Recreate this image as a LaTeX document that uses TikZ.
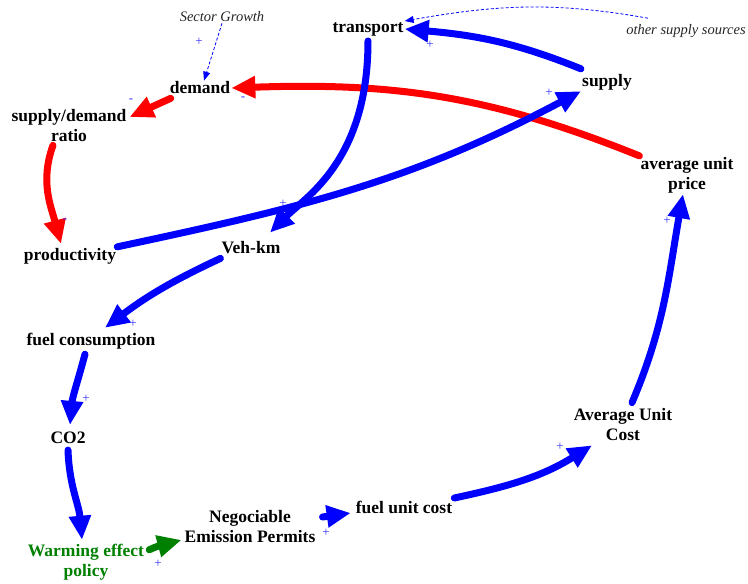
\documentclass[tikz,border=0pt]{standalone}
\usepackage{fontspec}
\setmainfont{Liberation Serif}
\usetikzlibrary{arrows.meta}

\begin{document}
\begin{tikzpicture}[x=1pt, y=1pt,
    var/.style={font=\fontsize{17.5}{20}\selectfont\bfseries, align=center, inner sep=1pt},
    src/.style={font=\fontsize{14.5}{16}\selectfont\itshape, black!85, inner sep=1pt},
    link/.style={line width=7pt, line cap=round, -{Triangle[length=24pt,width=21pt]}},
    poslink/.style={link, blue},
    neglink/.style={link, red},
    dep/.style={blue, line width=0.8pt, dash pattern=on 3pt off 2pt, -{Triangle[length=9pt,width=7pt]}},
    sign/.style={font=\fontsize{13}{13}\selectfont, blue!80, inner sep=0pt}
]
    \useasboundingbox (0,0) rectangle (748,-584);

    % variables
    \node[src] (sector) at (222,-17) {Sector Growth};
    \node[src] (other) at (686,-31) {other supply sources};
    \node[var] (transport) at (368,-29) {transport};
    \node[var] (demand) at (200,-88) {demand};
    \node[var] (supply) at (607,-82) {supply};
    \node[var] (ratio) at (69,-126) {supply/demand\\ratio};
    \node[var] (price) at (687,-175) {average unit\\price};
    \node[var] (productivity) at (70,-256) {productivity};
    \node[var] (vehkm) at (251,-248) {Veh-km};
    \node[var] (fuelcons) at (91,-341) {fuel consumption};
    \node[var] (co2) at (68,-438) {CO2};
    \node[var] (auc) at (623,-425) {Average Unit\\Cost};
    \node[var] (fuelunit) at (404,-507) {fuel unit cost};
    \node[var] (permits) at (250,-527) {Negociable\\Emission Permits};
    \node[var, green!50!black] (warming) at (86,-562) {Warming effect\\policy};

    % exogenous links
    \draw[dep] (sector.south) -- ([xshift=4pt]demand.north);
    \draw[dep] ([xshift=-38pt,yshift=5pt]other.north) to[out=170, in=10] (transport.north east);

    % causal links
    \draw[poslink] ([yshift=4pt]supply.north west) to[out=158, in=-5] (transport.east);
    \draw[neglink] (price.north west) to[out=158, in=2] (demand.east);
    \draw[neglink] ([xshift=2pt,yshift=-3pt]demand.south west) -- ([xshift=2pt,yshift=9pt]ratio.east);
    \draw[neglink] ([xshift=-16pt,yshift=-2pt]ratio.south) to[out=250, in=105] ([xshift=-9pt,yshift=3pt]productivity.north);
    \draw[poslink] (productivity.north east) to[out=12, in=-152] (supply.south west);
    \draw[poslink] ([yshift=-4pt]transport.south) to[out=-90, in=45, out distance=120pt, in distance=50pt] ([shift={(19,8)}]vehkm.north);
    \draw[poslink] ([yshift=-3pt]vehkm.south west) to[out=205, in=37] ([xshift=14pt,yshift=4pt]fuelcons.north);
    \draw[poslink] ([xshift=-6pt,yshift=-4pt]fuelcons.south) to[out=255, in=85] ([xshift=2pt,yshift=6pt]co2.north);
    \draw[poslink] ([yshift=-5pt]co2.south) to[out=-88, in=95] ([xshift=-4pt,yshift=3pt]warming.north);
    \draw[link, green!50!black] ([shift={(4,-7)}]warming.north east) to[out=25, in=195] ([xshift=-2pt,yshift=-13pt]permits.west);
    \draw[poslink] ([shift={(6,10)}]permits.east) -- ([xshift=-4pt,yshift=-6pt]fuelunit.west);
    \draw[poslink] ([shift={(1,9)}]fuelunit.east) to[out=12, in=-148] ([xshift=-31pt,yshift=-3pt]auc.south);
    \draw[poslink] ([shift={(9,5)}]auc.north) to[out=67, in=-100] ([xshift=-4pt]price.south);

    % polarities
    \node[sign] (p1) at (199,-42) {+};
    \node[sign] (p2) at (430,-45) {+};
    \node[sign] (m1) at (243,-99) {-};
    \node[sign] (m2) at (131,-101) {-};
    \node[sign] (m3) at (65,-221) {-};
    \node[sign] (p3) at (549,-93) {+};
    \node[sign] (p4) at (283,-204) {+};
    \node[sign] (p5) at (133,-324) {+};
    \node[sign] (p6) at (86,-399) {+};
    \node[sign] (p7) at (158,-564) {+};
    \node[sign] (p8) at (326,-533) {+};
    \node[sign] (p9) at (560,-447) {+};
    \node[sign] (p10) at (667,-221) {+};
\end{tikzpicture}
\end{document}
